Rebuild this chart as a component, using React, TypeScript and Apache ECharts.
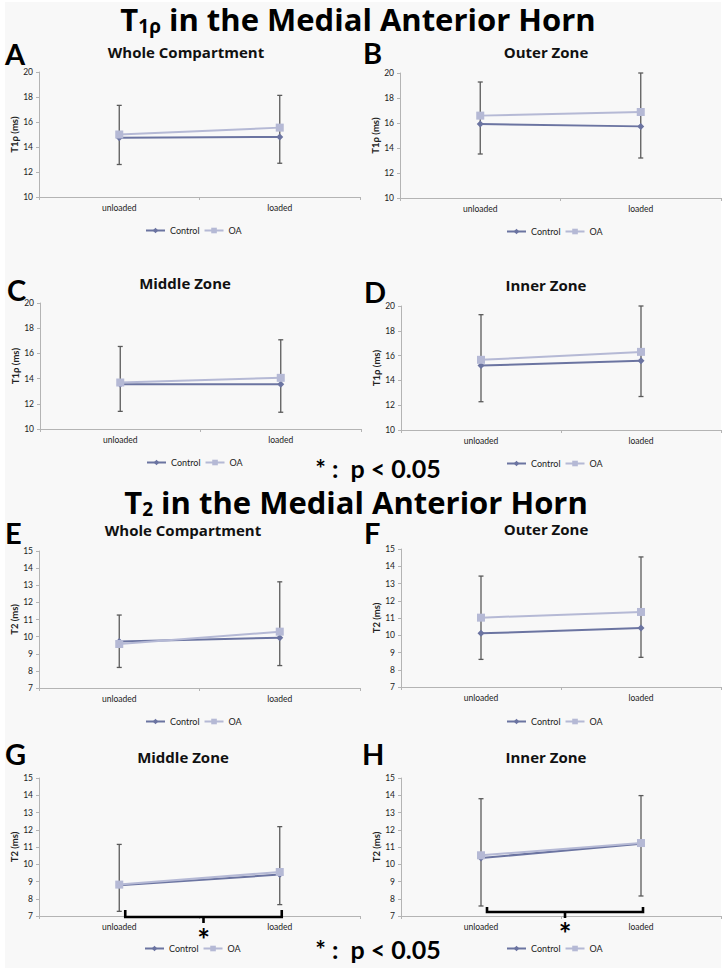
import React, { useEffect, useRef } from 'react';
import * as echarts from 'echarts';

// ---- data ----
const categories = ['unloaded', 'loaded'];
const seriesNames = ['Control', 'OA'];
const panelLetters = ['A', 'B', 'C', 'D', 'E', 'F', 'G', 'H'];
const panelTitles = ['Whole Compartment', 'Outer Zone', 'Middle Zone', 'Inner Zone', 'Whole Compartment', 'Outer Zone', 'Middle Zone', 'Inner Zone'];
const yNames = ['T1ρ (ms)', 'T1ρ (ms)', 'T1ρ (ms)', 'T1ρ (ms)', 'T2 (ms)', 'T2 (ms)', 'T2 (ms)', 'T2 (ms)'];
const t1Range = [10, 20, 2];
const t2Range = [7, 15, 1];

const controlA = [14.75, 14.8];
const oaA = [15.0, 15.55];
const errA = [[12.6, 17.33], [12.7, 18.13]];
const controlB = [15.92, 15.73];
const oaB = [16.59, 16.88];
const errB = [[13.52, 19.28], [13.2, 20.0]];
const controlC = [13.55, 13.55];
const oaC = [13.69, 14.06];
const errC = [[11.4, 16.55], [11.33, 17.08]];
const controlD = [15.2, 15.58];
const oaD = [15.66, 16.3];
const errD = [[12.28, 19.3], [12.7, 20.0]];
const controlE = [9.71, 9.94];
const oaE = [9.57, 10.29];
const errE = [[8.2, 11.26], [8.31, 13.2]];
const controlF = [10.11, 10.42];
const oaF = [11.02, 11.35];
const errF = [[8.6, 13.43], [8.72, 14.54]];
const controlG = [8.78, 9.4];
const oaG = [8.82, 9.55];
const errG = [[7.27, 11.15], [7.66, 12.18]];
const controlH = [10.36, 11.19];
const oaH = [10.52, 11.23];
const errH = [[7.58, 13.8], [8.16, 13.98]];

const controls = [controlA, controlB, controlC, controlD, controlE, controlF, controlG, controlH];
const oas = [oaA, oaB, oaC, oaD, oaE, oaF, oaG, oaH];
const errs = [errA, errB, errC, errD, errE, errF, errG, errH];

// ---- layout ----
const grids = [
  { left: 39, top: 72, width: 321, height: 125 },
  { left: 400, top: 73, width: 321, height: 125 },
  { left: 40, top: 303, width: 321, height: 126 },
  { left: 401, top: 306, width: 320, height: 124 },
  { left: 39, top: 551, width: 321, height: 137 },
  { left: 401, top: 549, width: 320, height: 138 },
  { left: 39, top: 778, width: 321, height: 138 },
  { left: 401, top: 778, width: 320, height: 138 },
];
const letterPos = [[5, 53], [363, 52], [7, 289], [364, 291], [5, 532], [364, 532], [5, 753], [362, 753]];
const titlePos = [[186, 52], [546, 52], [185, 283], [546, 285], [183, 530], [546, 529], [183, 757], [546, 757]];
const legendPos = [[185, 227], [546, 228], [186, 459], [546, 460], [185, 718], [546, 718], [184, 945], [546, 945]];

const FONT = 'Lato, "Open Sans", sans-serif';
const HFONT = '"Open Sans", Lato, sans-serif';
const CONTROL_COLOR = '#6b74a1';
const OA_COLOR = '#b5b9d5';
const ERR_COLOR = '#5a5a5a';
const AXIS_COLOR = '#b4b4b4';

const MAIN_FONT = `bold 31px ${HFONT}`;
const SUB_FONT = `bold 19px ${HFONT}`;

function measure(text: string, font: string): number {
  const c = document.createElement('canvas').getContext('2d');
  if (!c) return text.length * 10;
  c.font = font;
  return c.measureText(text).width;
}

function mainTitle(cx: number, cy: number, sub: string): any[] {
  const a = 'T';
  const rest = ' in the Medial Anterior Horn';
  const wa = measure(a, MAIN_FONT);
  const ws = measure(sub, SUB_FONT);
  const wr = measure(rest, MAIN_FONT);
  const x0 = cx - (wa + ws + wr) / 2;
  const base = { textAlign: 'left', textVerticalAlign: 'middle', fill: '#000' };
  return [
    { type: 'text', x: x0, y: cy, silent: true, style: { ...base, text: a, font: MAIN_FONT } },
    { type: 'text', x: x0 + wa, y: cy + 7, silent: true, style: { ...base, text: sub, font: SUB_FONT } },
    { type: 'text', x: x0 + wa + ws, y: cy, silent: true, style: { ...base, text: rest, font: MAIN_FONT } },
  ];
}

function buildOption() {
  const grid: any[] = [];
  const xAxis: any[] = [];
  const yAxis: any[] = [];
  const series: any[] = [];
  const legend: any[] = [];
  const graphic: any[] = [];

  graphic.push({
    type: 'rect', silent: true, z: -10,
    shape: { x: 5, y: 2, width: 716, height: 966 },
    style: { fill: '#f8f8f8' },
  });

  for (let i = 0; i < 8; i++) {
    const g = grids[i];
    grid.push({ left: g.left, top: g.top, width: g.width, height: g.height, containLabel: false });
    xAxis.push({
      type: 'category', gridIndex: i, data: categories, boundaryGap: true,
      axisLine: { lineStyle: { color: AXIS_COLOR, width: 1 } },
      axisTick: { show: true, length: 3, inside: false, lineStyle: { color: AXIS_COLOR } },
      axisLabel: { color: '#222', fontSize: 8.5, fontFamily: FONT, margin: 6 },
      splitLine: { show: false },
    });
    const r = i < 4 ? t1Range : t2Range;
    yAxis.push({
      type: 'value', gridIndex: i, min: r[0], max: r[1], interval: r[2],
      name: yNames[i], nameLocation: 'middle', nameGap: 19, nameRotate: 90,
      nameTextStyle: { fontSize: 9.5, fontWeight: 'bold', fontFamily: FONT, color: '#222' },
      axisLine: { show: true, lineStyle: { color: AXIS_COLOR, width: 1 } },
      axisTick: { show: true, length: 3, lineStyle: { color: AXIS_COLOR } },
      axisLabel: { color: '#222', fontSize: 8.5, fontFamily: FONT, margin: 6 },
      splitLine: { show: false },
    });
    const errData = errs[i].map((e, j) => [j, e[0], e[1]]);
    series.push({
      type: 'custom', name: 'SD', xAxisIndex: i, yAxisIndex: i, z: 1, silent: true, clip: false,
      data: errData,
      renderItem: (params: any, api: any) => {
        const lo = api.coord([api.value(0), api.value(1)]);
        const hi = api.coord([api.value(0), api.value(2)]);
        const cap = 2.5;
        const st = { stroke: ERR_COLOR, lineWidth: 1.3 };
        return {
          type: 'group',
          children: [
            { type: 'line', shape: { x1: lo[0], y1: lo[1], x2: hi[0], y2: hi[1] }, style: st },
            { type: 'line', shape: { x1: lo[0] - cap, y1: lo[1], x2: lo[0] + cap, y2: lo[1] }, style: st },
            { type: 'line', shape: { x1: hi[0] - cap, y1: hi[1], x2: hi[0] + cap, y2: hi[1] }, style: st },
          ],
        };
      },
    });
    series.push({
      type: 'line', name: seriesNames[0], xAxisIndex: i, yAxisIndex: i, z: 3,
      data: controls[i], symbol: 'diamond', symbolSize: 7,
      lineStyle: { color: CONTROL_COLOR, width: 2 },
      itemStyle: { color: CONTROL_COLOR },
    });
    series.push({
      type: 'line', name: seriesNames[1], xAxisIndex: i, yAxisIndex: i, z: 4,
      data: oas[i], symbol: 'rect', symbolSize: 8,
      lineStyle: { color: OA_COLOR, width: 2 },
      itemStyle: { color: OA_COLOR },
    });
    legend.push({
      data: seriesNames, left: legendPos[i][0] - 45, top: legendPos[i][1] - 6,
      itemWidth: 19, itemHeight: 7, itemGap: 4, orient: 'horizontal',
      textStyle: { fontSize: 9, fontFamily: FONT, color: '#222' },
      selectedMode: false,
    });
    graphic.push({
      type: 'text', x: letterPos[i][0], y: letterPos[i][1], silent: true,
      style: { text: panelLetters[i], font: `bold 29px ${FONT}`, fill: '#000', textAlign: 'left', textVerticalAlign: 'middle' },
    });
    graphic.push({
      type: 'text', x: titlePos[i][0], y: titlePos[i][1], silent: true,
      style: { text: panelTitles[i], font: `bold 15px ${HFONT}`, fill: '#111', textAlign: 'center', textVerticalAlign: 'middle' },
    });
  }

  graphic.push(...mainTitle(358, 19, '1ρ'));
  graphic.push(...mainTitle(356, 502, '2'));

  const pText = (y: number) => ({
    type: 'text', x: 378, y, silent: true,
    style: { text: '* :  p < 0.05', font: `bold 25px ${FONT}`, fill: '#000', textAlign: 'center', textVerticalAlign: 'middle' },
  });
  graphic.push(pText(468));
  graphic.push(pText(949));

  return {
    animation: false,
    backgroundColor: 'transparent',
    grid, xAxis, yAxis, series, legend, graphic,
  };
}

export default function App() {
  const ref = useRef<HTMLDivElement>(null);
  useEffect(() => {
    document.body.style.margin = '0';
    document.body.style.background = '#fff';
    if (!ref.current) return;
    const chart = echarts.init(ref.current, null, { renderer: 'svg' });
    const option: any = buildOption();
    chart.setOption(option);

    // significance brackets in panels G and H, placed from the axes
    const bracketSpecs = [
      { idx: 6, dy: 1, up: 7, down: 6, star: 22 },
      { idx: 7, dy: -4, up: 5, down: 6, star: 21 },
    ];
    const extra: any[] = [];
    bracketSpecs.forEach((b) => {
      const x0 = (chart.convertToPixel({ xAxisIndex: b.idx } as any, categories[0]) as any) + 6;
      const x1 = (chart.convertToPixel({ xAxisIndex: b.idx } as any, categories[1]) as any) + 2;
      const yBase = (chart.convertToPixel({ yAxisIndex: b.idx } as any, t2Range[0]) as any) + b.dy;
      const xm = (x0 + x1) / 2;
      extra.push({
        type: 'polyline', silent: true, z: 10,
        shape: { points: [[x0, yBase - b.up], [x0, yBase], [x1, yBase], [x1, yBase - b.up]] },
        style: { stroke: '#000', lineWidth: 2.6, fill: 'none' },
      });
      extra.push({
        type: 'line', silent: true, z: 10,
        shape: { x1: xm, y1: yBase, x2: xm, y2: yBase + b.down },
        style: { stroke: '#000', lineWidth: 2.6 },
      });
      extra.push({
        type: 'text', x: xm, y: yBase + b.star, silent: true, z: 10,
        style: { text: '*', font: `bold 30px ${FONT}`, fill: '#000', textAlign: 'center', textVerticalAlign: 'middle' },
      });
    });
    chart.setOption({ graphic: [...option.graphic, ...extra] });
    return () => chart.dispose();
  }, []);
  return <div ref={ref} style={{ width: 728, height: 975, background: '#fff' }} />;
}
